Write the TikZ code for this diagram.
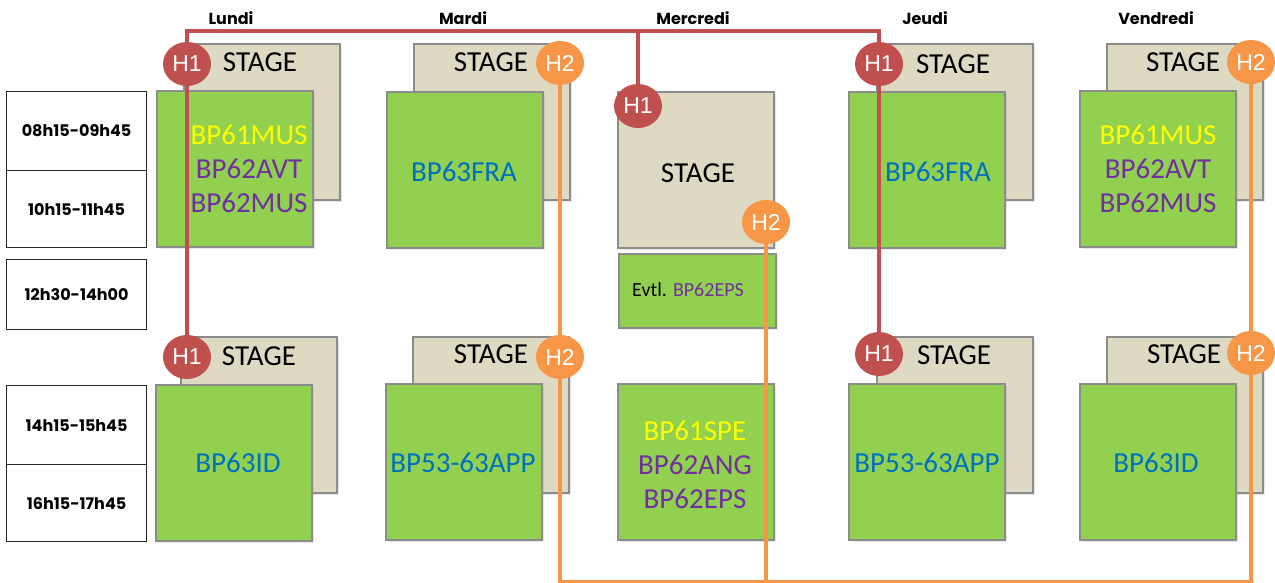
\documentclass[tikz,border=0pt]{standalone}
\usepackage{fontspec}
\setmainfont{Carlito}
\newfontfamily\dayfont{Poppins}
\newfontfamily\hfont{Liberation Sans}
\usetikzlibrary{shapes.geometric,shadows}
\definecolor{greenc}{HTML}{92D050}
\definecolor{stagec}{HTML}{DDD9C3}
\definecolor{boxgray}{HTML}{8C8C8C}
\definecolor{redc}{HTML}{C0504D}
\definecolor{orangec}{HTML}{F79646}
\definecolor{ylw}{HTML}{FFFF00}
\definecolor{prp}{HTML}{7030A0}
\definecolor{blu}{HTML}{0070C0}
\pgfdeclarelayer{boxes}
\pgfdeclarelayer{wires}
\pgfsetlayers{boxes,wires,main}
\tikzset{
  basebox/.style={rectangle, anchor=north west, inner sep=0pt, outer sep=0pt,
    draw=boxgray, line width=1.5pt,
    drop shadow={shadow xshift=2pt, shadow yshift=-2pt, opacity=0.18}},
  stagebox/.style={basebox, fill=stagec, minimum width=156pt, minimum height=156pt},
  greenbox/.style={basebox, fill=greenc, minimum width=156pt, minimum height=156pt},
  timebox/.style={rectangle, anchor=north west, draw=black!85, line width=1.2pt, fill=white,
    minimum width=140pt, inner sep=0pt, font=\dayfont\bfseries\fontsize{16}{16}\selectfont},
  daylabel/.style={font=\dayfont\bfseries\fontsize{16}{16}\selectfont},
  bigtxt/.style={font=\fontsize{29}{34}\selectfont, align=center, inner sep=0pt},
  hone/.style={ellipse, minimum width=48pt, minimum height=44pt, inner sep=0pt,
    fill=redc, text=white, font=\hfont\fontsize{23}{23}\selectfont},
  htwo/.style={hone, fill=orangec},
  redline/.style={draw=redc, line width=3.5pt},
  orangeline/.style={draw=orangec, line width=3.5pt}
}
\begin{document}
\begin{tikzpicture}[x=1pt,y=-1pt]
\useasboundingbox (0,0) rectangle (1275,583);
% day labels
\node[daylabel] (dlun) at (231,18) {Lundi};
\node[daylabel] (dmar) at (463,18) {Mardi};
\node[daylabel] (dmer) at (693,18) {Mercredi};
\node[daylabel] (djeu) at (925,18) {Jeudi};
\node[daylabel] (dven) at (1156,18) {Vendredi};
% time boxes
\node[timebox, minimum height=79pt] (t1) at (6,91) {08h15-09h45};
\node[timebox, minimum height=77pt] (t2) at (6,170) {10h15-11h45};
\node[timebox, minimum height=70pt] (t3) at (6,259) {12h30-14h00};
\node[timebox, minimum height=79pt] (t4) at (6,385) {14h15-15h45};
\node[timebox, minimum height=77pt] (t5) at (6,464) {16h15-17h45};
\begin{pgfonlayer}{boxes}
% morning
\node[stagebox] (slunA) at (184,44) {};
\node[greenbox] (glunA) at (157,91) {};
\node[stagebox] (smarA) at (414,44) {};
\node[greenbox] (gmarA) at (387,92) {};
\node[stagebox] (smerA) at (618,92) {};
\node[basebox, fill=greenc, minimum width=157pt, minimum height=74pt] (gmerE) at (619,254) {};
\node[stagebox] (sjeuA) at (877,44) {};
\node[greenbox] (gjeuA) at (849,92) {};
\node[stagebox] (svenA) at (1107,44) {};
\node[greenbox] (gvenA) at (1080,91) {};
% afternoon
\node[stagebox] (slunB) at (181,337) {};
\node[greenbox] (glunB) at (156,385) {};
\node[stagebox] (smarB) at (413,337) {};
\node[greenbox] (gmarB) at (386,384) {};
\node[greenbox] (gmerB) at (618,384) {};
\node[stagebox] (sjeuB) at (877,337) {};
\node[greenbox] (gjeuB) at (849,384) {};
\node[stagebox] (svenB) at (1107,337) {};
\node[greenbox] (gvenB) at (1080,384) {};
\end{pgfonlayer}
% texts
\node[bigtxt] (xs1) at (260,62) {STAGE};
\node[bigtxt] (xs2) at (491,62) {STAGE};
\node[bigtxt] (xs3) at (698,173) {STAGE};
\node[bigtxt] (xs4) at (953,64) {STAGE};
\node[bigtxt] (xs5) at (1183,62) {STAGE};
\node[bigtxt] (xs6) at (259,356) {STAGE};
\node[bigtxt] (xs7) at (491,354) {STAGE};
\node[bigtxt] (xs8) at (954,355) {STAGE};
\node[bigtxt] (xs9) at (1184,354) {STAGE};
\node[bigtxt] (xg1) at (249,169) {\textcolor{ylw}{BP61MUS}\\\textcolor{prp}{BP62AVT}\\\textcolor{prp}{BP62MUS}};
\node[bigtxt, text=blu] (xg2) at (464,172) {BP63FRA};
\node[bigtxt, text=blu] (xg3) at (938,172) {BP63FRA};
\node[bigtxt] (xg4) at (1158,169) {\textcolor{ylw}{BP61MUS}\\\textcolor{prp}{BP62AVT}\\\textcolor{prp}{BP62MUS}};
\node[font=\fontsize{20}{20}\selectfont, inner sep=0pt] (xev) at (688,290) {Evtl. \textcolor{prp}{BP62EPS}};
\node[bigtxt, text=blu] (xg5) at (238,463) {BP63ID};
\node[bigtxt, text=blu] (xg6) at (463,463) {BP53-63APP};
\node[bigtxt] (xg7) at (695,465) {\textcolor{ylw}{BP61SPE}\\\textcolor{prp}{BP62ANG}\\\textcolor{prp}{BP62EPS}};
\node[bigtxt, text=blu] (xg8) at (927,463) {BP53-63APP};
\node[bigtxt, text=blu] (xg9) at (1156,463) {BP63ID};
% badges
\node[hone] (h1lunA) at (187,64) {H1};
\node[hone] (h1lunB) at (187,357) {H1};
\node[hone] (h1mer) at (638,106) {H1};
\node[hone] (h1jeuA) at (879,64) {H1};
\node[hone] (h1jeuB) at (879,354) {H1};
\node[htwo] (h2marA) at (560,63) {H2};
\node[htwo] (h2marB) at (560,357) {H2};
\node[htwo] (h2mer) at (766,222) {H2};
\node[htwo] (h2venA) at (1251,62) {H2};
\node[htwo] (h2venB) at (1251,353) {H2};
% wires
\coordinate (rL) at (187,31);
\coordinate (rM) at (638,31);
\coordinate (rR) at (879,31);
\coordinate (oL) at (560,582);
\coordinate (oM) at (766,582);
\coordinate (oR) at (1251,582);
\begin{pgfonlayer}{wires}
\draw[redline] (h1lunB.center) -- (rL) -- (rR) -- (h1jeuB.center);
\draw[redline] (rM) -- (h1mer.center);
\draw[orangeline] (h2marA.center) -- (oL) -- (oR) -- (h2venA.center);
\draw[orangeline] (h2mer.center) -- (oM);
\end{pgfonlayer}
\end{tikzpicture}
\end{document}
